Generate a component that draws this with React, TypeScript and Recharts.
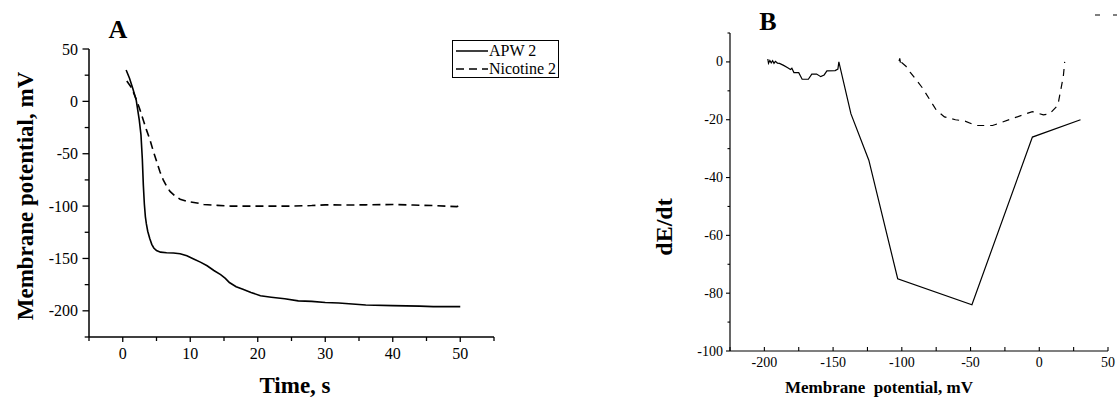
import React from 'react';
import { LineChart, Line, XAxis, YAxis, Legend, Label } from 'recharts';

const FONT = '"Liberation Serif", "Times New Roman", Times, serif';

// ---------- Panel A: membrane potential vs time ----------
const apwTime = [0.5, 1.0, 1.5, 2.0, 2.45, 2.7, 2.9, 3.05, 3.2, 3.35, 3.5, 3.7, 4.0, 4.3, 4.6, 5.0, 5.6, 6.5, 7.5, 8.5, 9.5, 10.5, 11.5, 12.5, 13.5, 14.5, 15.2, 15.8, 16.8, 17.8, 19, 20.4, 22, 24, 26, 28, 30, 32, 34, 36, 40, 44, 46, 50];
const apwPotential = [30, 22, 12, 1, -18, -32, -55, -80, -98, -110, -117, -124, -131, -136.5, -140, -142.5, -144, -144.5, -144.8, -145.5, -147.5, -150.5, -153.5, -157, -161.5, -165.5, -169, -173, -177, -179.5, -182.5, -185.6, -187, -188.5, -190.5, -191, -192, -192.5, -193.5, -194.5, -195, -195.5, -196, -196];

const nicTime = [0.6, 1.3, 2.0, 2.5, 3.0, 3.5, 4.0, 4.5, 5.0, 5.5, 6.0, 6.5, 7.0, 7.7, 8.5, 9.5, 11, 12, 14, 16, 20, 25, 28, 30, 33, 36, 40, 43, 46, 49.5, 50];
const nicPotential = [19.5, 13, 2, -7, -17, -27, -36, -47, -57, -67, -75, -81, -86, -90, -93.5, -95.5, -97, -98.5, -99.3, -100, -100, -100, -99.5, -98.8, -99, -98.8, -98.5, -99, -99.5, -100.5, -99];

const timeTicks = [-5, 0, 5, 10, 15, 20, 25, 30, 35, 40, 45, 50, 55];
const timeLabels = [0, 10, 20, 30, 40, 50];
const potentialTicks = [-225, -200, -175, -150, -125, -100, -75, -50, -25, 0, 25, 50];
const potentialLabels = [-200, -150, -100, -50, 0, 50];

// ---------- Panel B: dE/dt vs membrane potential ----------
const apwE = [-197.5, -197, -196, -195, -194, -193, -192, -190.5, -189, -186, -183, -181, -180, -178.5, -175, -172.5, -168, -165.5, -162, -159, -156.5, -154.5, -148.5, -146.5, -145.8, -137, -124, -103, -49, -5, 30];
const apwRate = [1, -0.5, 0.5, -0.3, 0.4, -0.5, 0.2, -0.4, -0.5, -1.2, -2, -2.6, -2.2, -3.7, -3.7, -6, -6, -4.2, -4.2, -5.1, -4.5, -3.1, -3, -2.5, 0, -18, -34, -75, -84, -26, -20];

const nicE = [-102, -101.5, -101, -100.5, -100, -97, -94, -85, -75, -69, -61, -54, -46, -34, -19, -10, -5, 3, 7.5, 13.5, 15.5, 17.5, 18.5];
const nicRate = [0.3, 1.2, -0.3, 0.8, -0.3, -1.5, -3.5, -9, -16.6, -19, -20, -20.5, -22, -22, -19.5, -18, -17.2, -18.3, -18, -15, -10, -5, 0];

const eTicks = [-225, -200, -175, -150, -125, -100, -75, -50, -25, 0, 25, 50];
const eLabels = [-200, -150, -100, -50, 0, 50];
const rateTicks = [-100, -90, -80, -70, -60, -50, -40, -30, -20, -10, 0, 10];
const rateLabels = [-100, -80, -60, -40, -20, 0];

const seriesNames = { apw: 'APW 2', nic: 'Nicotine 2' };

const dataA1 = apwTime.map((t, i) => ({ x: t, y: apwPotential[i] }));
const dataA2 = nicTime.map((t, i) => ({ x: t, y: nicPotential[i] }));
const dataB1 = apwE.map((e, i) => ({ x: e, y: apwRate[i] }));
const dataB2 = nicE.map((e, i) => ({ x: e, y: nicRate[i] }));

type TickOpts = {
  labels: number[];
  major: number;
  minor: number;
  dir: number;
  gap: number;
  fontSize: number;
  sw: number;
};

const textStyle = (fontSize: number, bold = false): React.CSSProperties => ({
  fontFamily: FONT,
  fontSize,
  fontWeight: bold ? 'bold' : 'normal',
  fill: '#000',
});

const bottomTick = (o: TickOpts) => (props: any) => {
  const { x, y, payload } = props;
  const isMajor = o.labels.includes(payload.value);
  const len = isMajor ? o.major : o.minor;
  return (
    <g>
      <line x1={x} x2={x} y1={y} y2={y + o.dir * len} stroke="#000" strokeWidth={o.sw} />
      {isMajor && (
        <text x={x} y={y + o.gap} textAnchor="middle" dominantBaseline="central" style={textStyle(o.fontSize)}>
          {payload.value}
        </text>
      )}
    </g>
  );
};

const leftTick = (o: TickOpts) => (props: any) => {
  const { x, y, payload } = props;
  const isMajor = o.labels.includes(payload.value);
  const len = isMajor ? o.major : o.minor;
  return (
    <g>
      <line x1={x} x2={x - o.dir * len} y1={y} y2={y} stroke="#000" strokeWidth={o.sw} />
      {isMajor && (
        <text x={x - o.gap} y={y} textAnchor="end" dominantBaseline="central" style={textStyle(o.fontSize)}>
          {payload.value}
        </text>
      )}
    </g>
  );
};

const vTitle = (text: string, dx: number, cyAbs: number, fontSize: number) => (props: any) => {
  const vb = props.viewBox || {};
  const cx = (vb.x || 0) + dx;
  const cy = cyAbs;
  return (
    <text x={cx} y={cy} transform={`rotate(-90 ${cx} ${cy})`} textAnchor="middle" dominantBaseline="central" style={textStyle(fontSize, true)}>
      {text}
    </text>
  );
};

const hTitle = (text: string, cxRel: number, dy: number, fontSize: number) => (props: any) => {
  const vb = props.viewBox || {};
  const cx = cxRel;
  const cy = (vb.y || 0) + dy;
  return (
    <text x={cx} y={cy} textAnchor="middle" dominantBaseline="central" style={{ ...textStyle(fontSize, true), whiteSpace: 'pre' }}>
      {text}
    </text>
  );
};

const LegendBoxA = (props: any) => {
  const { payload } = props;
  return (
    <div style={{ border: '1px solid #000', background: '#fff', boxSizing: 'border-box', width: 107, height: 38, padding: '1px 0 0 3px' }}>
      {(payload || []).map((p: any) => (
        <div key={p.value} style={{ display: 'flex', alignItems: 'center', height: 18, fontSize: 16, fontFamily: FONT, color: '#000', whiteSpace: 'nowrap' }}>
          <svg width={32} height={10} style={{ flex: 'none' }}>
            <line x1={0} y1={5} x2={32} y2={5} stroke="#000" strokeWidth={1.5} strokeDasharray={p.payload?.strokeDasharray} />
          </svg>
          <span style={{ marginLeft: 1 }}>{p.value}</span>
        </div>
      ))}
    </div>
  );
};

// Panel B's legend sits mostly outside the picture; only its dashed key stub shows.
const LegendStubB = (props: any) => {
  const { payload } = props;
  const dashed = (payload || []).filter((p: any) => p.payload?.strokeDasharray);
  return (
    <div style={{ whiteSpace: 'nowrap' }}>
      {dashed.map((p: any) => (
        <svg key={p.value} width={32} height={10} style={{ display: 'block' }}>
          <line x1={0} y1={5} x2={32} y2={5} stroke="#000" strokeWidth={1.2} strokeDasharray="5 13" />
        </svg>
      ))}
    </div>
  );
};

export default function App() {
  return (
    <div style={{ position: 'absolute', left: 0, top: 0, width: 1117, height: 403, overflow: 'hidden', background: '#fff' }}>
      <div style={{ position: 'absolute', left: 0, top: 0 }}>
        <LineChart width={560} height={403} margin={{ top: 49, right: 66, bottom: 0, left: 0 }}>
          <XAxis
            dataKey="x"
            type="number"
            domain={[-5, 55]}
            ticks={timeTicks}
            interval={0}
            allowDataOverflow
            height={66}
            tickSize={0}
            tickMargin={0}
            tickLine={false}
            axisLine={{ stroke: '#000', strokeWidth: 1.5 }}
            tick={bottomTick({ labels: timeLabels, major: 5, minor: 4, dir: 1, gap: 16, fontSize: 16, sw: 1.3 })}
          >
            <Label content={hTitle('Time, s', 295, 48, 23)} />
          </XAxis>
          <YAxis
            dataKey="y"
            type="number"
            domain={[-225, 50]}
            ticks={potentialTicks}
            interval={0}
            allowDataOverflow
            width={89}
            tickSize={0}
            tickMargin={0}
            tickLine={false}
            axisLine={{ stroke: '#000', strokeWidth: 1.5 }}
            tick={leftTick({ labels: potentialLabels, major: 6.5, minor: 4.3, dir: 1, gap: 11, fontSize: 16, sw: 1.3 })}
          >
            <Label content={vTitle('Membrane potential, mV', 25, 196, 23)} />
          </YAxis>
          <Legend
            layout="vertical"
            align="center"
            verticalAlign="middle"
            content={LegendBoxA}
            wrapperStyle={{ position: 'absolute', left: 452, top: 40, width: 107, height: 38 }}
          />
          <Line data={dataA1} dataKey="y" name={seriesNames.apw} stroke="#000" strokeWidth={1.6} dot={false} legendType="plainline" isAnimationActive={false} type="linear" />
          <Line data={dataA2} dataKey="y" name={seriesNames.nic} stroke="#000" strokeWidth={1.6} strokeDasharray="8 5" dot={false} legendType="plainline" isAnimationActive={false} type="linear" />
        </LineChart>
      </div>
      <div style={{ position: 'absolute', left: 560, top: 0 }}>
        <LineChart width={557} height={403} margin={{ top: 33, right: 9, bottom: 0, left: 0 }}>
          <XAxis
            dataKey="x"
            type="number"
            domain={[-225, 50]}
            ticks={eTicks}
            interval={0}
            allowDataOverflow
            height={52}
            tickSize={0}
            tickMargin={0}
            tickLine={false}
            axisLine={{ stroke: '#000', strokeWidth: 1.2 }}
            tick={bottomTick({ labels: eLabels, major: 4, minor: 4, dir: -1, gap: 11, fontSize: 14, sw: 1.1 })}
          >
            <Label content={hTitle('Membrane  potential, mV', 319, 36, 17)} />
          </XAxis>
          <YAxis
            dataKey="y"
            type="number"
            domain={[-100, 10]}
            ticks={rateTicks}
            interval={0}
            allowDataOverflow
            width={170}
            tickSize={0}
            tickMargin={0}
            tickLine={false}
            axisLine={{ stroke: '#000', strokeWidth: 1.2 }}
            tick={leftTick({ labels: rateLabels, major: 4, minor: 2.5, dir: 1, gap: 7, fontSize: 14, sw: 1.1 })}
          >
            <Label content={vTitle('dE/dt', 104, 227, 24)} />
          </YAxis>
          <Legend
            layout="vertical"
            align="center"
            verticalAlign="middle"
            content={LegendStubB}
            wrapperStyle={{ position: 'absolute', left: 535, top: 10, width: 40 }}
          />
          <Line data={dataB1} dataKey="y" name={seriesNames.apw} stroke="#000" strokeWidth={1.2} dot={false} legendType="plainline" isAnimationActive={false} type="linear" />
          <Line data={dataB2} dataKey="y" name={seriesNames.nic} stroke="#000" strokeWidth={1.2} strokeDasharray="7 6" dot={false} legendType="plainline" isAnimationActive={false} type="linear" />
        </LineChart>
      </div>
      <svg width={1117} height={403} style={{ position: 'absolute', left: 0, top: 0, pointerEvents: 'none' }}>
        <text x={118} y={38} textAnchor="middle" style={textStyle(26, true)}>A</text>
        <text x={768} y={30} textAnchor="middle" style={textStyle(26, true)}>B</text>
      </svg>
    </div>
  );
}
